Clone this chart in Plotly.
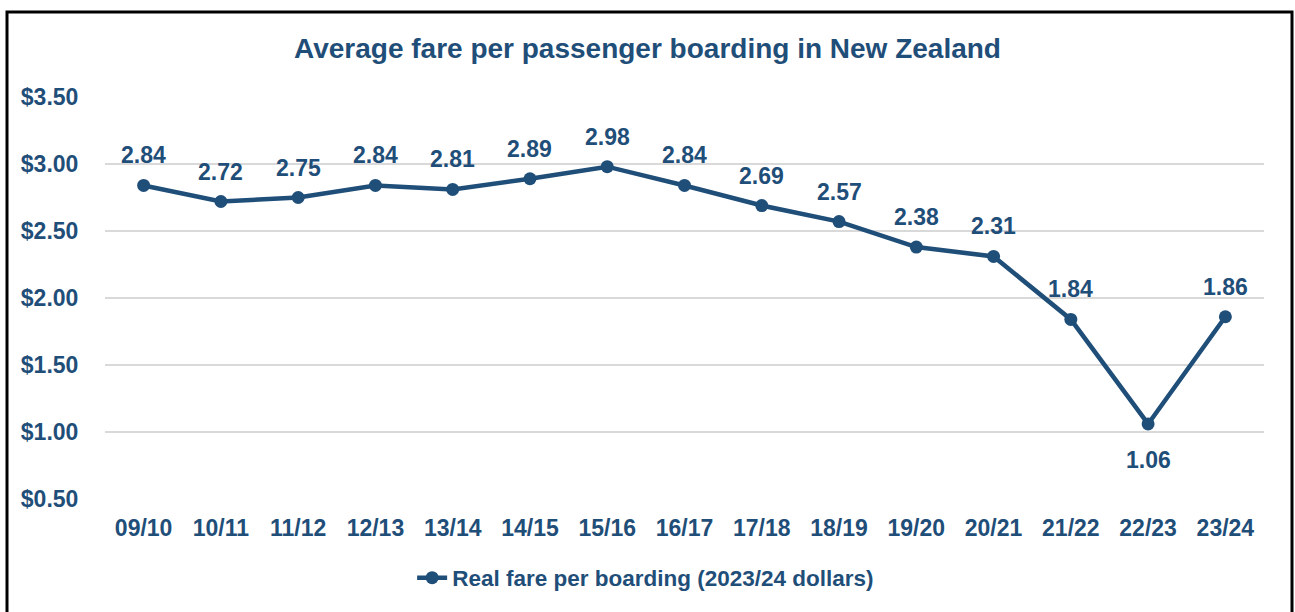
import plotly.graph_objects as go

years = ["09/10", "10/11", "11/12", "12/13", "13/14", "14/15", "15/16", "16/17",
         "17/18", "18/19", "19/20", "20/21", "21/22", "22/23", "23/24"]
fares = [2.84, 2.72, 2.75, 2.84, 2.81, 2.89, 2.98, 2.84, 2.69, 2.57, 2.38, 2.31, 1.84, 1.06, 1.86]
y_ticks = [0.5, 1.0, 1.5, 2.0, 2.5, 3.0, 3.5]
y_ticklabels = ["$%.2f" % v for v in y_ticks]

BLUE = "#1F4E79"
FONT = "Liberation Sans, Arial, sans-serif"

W, H = 1295, 612
L, R, T, B = 105, 31, 97, 113

fig = go.Figure()
fig.add_trace(go.Scatter(
    x=years, y=fares, mode="lines+markers",
    name="Real fare per boarding (2023/24 dollars)",
    line=dict(color=BLUE, width=4.5),
    marker=dict(color=BLUE, size=13),
))

for i, (x, v) in enumerate(zip(years, fares)):
    below = 0 < i < len(fares) - 1 and (fares[i - 1] - v) > 0.5 and (fares[i + 1] - v) > 0.5
    fig.add_annotation(
        x=x, y=v, text="%.2f" % v, showarrow=False,
        yshift=-36 if below else 30,
        font=dict(family=FONT, size=23, color=BLUE, weight="bold"),
    )

fig.update_layout(
    width=W, height=H,
    paper_bgcolor="white", plot_bgcolor="white",
    margin=dict(l=L, r=R, t=T, b=B, autoexpand=False),
    title=dict(text="Average fare per passenger boarding in New Zealand",
               x=0.5, xref="container", xanchor="center",
               y=1 - 48 / H, yref="container", yanchor="middle",
               font=dict(family=FONT, size=28, color=BLUE, weight="bold")),
    showlegend=True,
    legend=dict(orientation="h", x=0.265, xanchor="left",
                y=(H - B - 578) / (H - T - B), yanchor="middle",
                font=dict(family=FONT, size=22.5, color=BLUE, weight="bold")),
    xaxis=dict(
        type="category", range=[-0.5, len(years) - 0.5],
        showgrid=False, showline=False, zeroline=False, automargin=False,
        ticks="outside", ticklen=8, tickcolor="rgba(0,0,0,0)",
        tickfont=dict(family=FONT, size=23, color=BLUE, weight="bold"),
    ),
    yaxis=dict(
        range=[0.5, 3.5], tickvals=y_ticks, ticktext=y_ticklabels, automargin=False,
        showgrid=True, gridcolor="#D9D9D9", gridwidth=2, zeroline=False, showline=False,
        ticks="outside", ticklen=21, tickcolor="rgba(0,0,0,0)",
        tickfont=dict(family=FONT, size=23, color=BLUE, weight="bold"),
    ),
)

# outer chart frame
pw, ph = W - L - R, H - T - B
fig.add_shape(type="rect", xref="paper", yref="paper",
              x0=(7 - L) / pw, x1=(1292 - L) / pw,
              y0=(H - B - 640) / ph, y1=(H - B - 12) / ph,
              line=dict(color="black", width=3), fillcolor="rgba(0,0,0,0)", layer="above")

fig.write_html("out.html", config={"displayModeBar": False},
               post_script="document.body.style.margin='0';")
